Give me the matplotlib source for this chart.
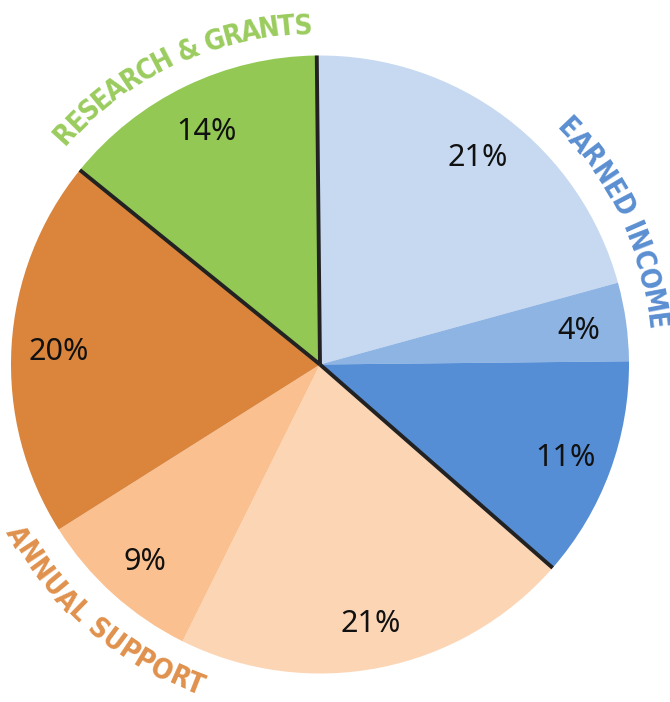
import numpy as np
import matplotlib
matplotlib.use("Agg")
import matplotlib.pyplot as plt
from matplotlib.font_manager import FontProperties

# ---- data ----
categories = ["Earned income A", "Earned income B", "Earned income C",
              "Annual support A", "Annual support B", "Annual support C",
              "Research & grants"]
values = [20.9, 4.1, 11.6, 20.9, 8.7, 19.8, 14.0]
pct_labels = ["21%", "4%", "11%", "21%", "9%", "20%", "14%"]
slice_colors = ["#C6D9F1", "#8EB4E3", "#558ED5",
                "#FCD5B5", "#FAC090", "#DA843C", "#92C853"]
group_titles = ["EARNED INCOME", "ANNUAL SUPPORT", "RESEARCH & GRANTS"]
group_colors = ["#5B8FD1", "#E0914C", "#9BCC5E"]
group_first_slice = [0, 3, 6]  # black separator drawn at start of each group

W, H = 670, 702
fig = plt.figure(figsize=(W / 100, H / 100), dpi=100)
ax = fig.add_axes([0, 0, 1, 1])

cx, cy = 320, H - 364.5
R = 309

wedges, _ = ax.pie(values, colors=slice_colors, startangle=90.6,
                   counterclock=False, center=(cx, cy), radius=R,
                   wedgeprops=dict(linewidth=0), frame=True)
ax.set_xlim(0, W)
ax.set_ylim(0, H)
ax.set_aspect("auto")
ax.axis("off")

# percentage labels (visually centred on the cap height)
pfs = 22
pcap = 0.714 * pfs * 100 / 72
for w, lab in zip(wedges, pct_labels):
    mid = np.deg2rad((w.theta1 + w.theta2) / 2)
    ax.text(cx + 0.847 * R * np.cos(mid),
            cy + 0.847 * R * np.sin(mid) - pcap / 2, lab,
            ha="center", va="baseline", fontsize=pfs, family="Noto Sans",
            color="#111111")

# black separator lines between groups
for i in group_first_slice:
    w = wedges[i]
    ang = np.deg2rad(w.theta2)  # counterclock=False: start edge is theta2
    ax.plot([cx, cx + R * np.cos(ang)], [cy, cy + R * np.sin(ang)],
            color="#222222", lw=2.8, solid_capstyle="butt")

# curved group titles
fp = FontProperties(family="DejaVu Sans", weight="bold", stretch="condensed",
                    size=20)
fig.canvas.draw()
renderer = fig.canvas.get_renderer()


def twidth(s):
    if not s:
        return 0.0
    w, h, d = renderer.get_text_width_height_descent(s, fp, ismath=False)
    return w


def curved(text, a0, a1, r0, r1, color, outward):
    n = len(text)
    centers = []
    for i in range(n):
        cw = twidth(text[i]) if text[i] != " " else 0
        centers.append(twidth(text[:i + 1]) - cw / 2)
    c0, c1 = centers[0], centers[-1]
    cap = 0.729 * fp.get_size_in_points() * 100 / 72
    for i, ch in enumerate(text):
        if ch == " ":
            continue
        t = (centers[i] - c0) / (c1 - c0)
        a = a0 + t * (a1 - a0)
        r = r0 + t * (r1 - r0)
        rb = r - cap / 2 if outward else r + cap / 2
        ar = np.deg2rad(a)
        rot = a - 90 if outward else a + 90
        ax.text(cx + rb * np.cos(ar), cy + rb * np.sin(ar), ch,
                fontproperties=fp, color=color, rotation=rot,
                rotation_mode="anchor", ha="center", va="baseline")


curved(group_titles[0], 43.65, 7.26, 344.5, 339.5, group_colors[0], True)
curved(group_titles[1], 209.6, 248.7, 346.5, 342.0, group_colors[1], False)
curved(group_titles[2], 137.8, 92.9, 345.5, 341.0, group_colors[2], True)

fig.savefig("out.png", dpi=100)
